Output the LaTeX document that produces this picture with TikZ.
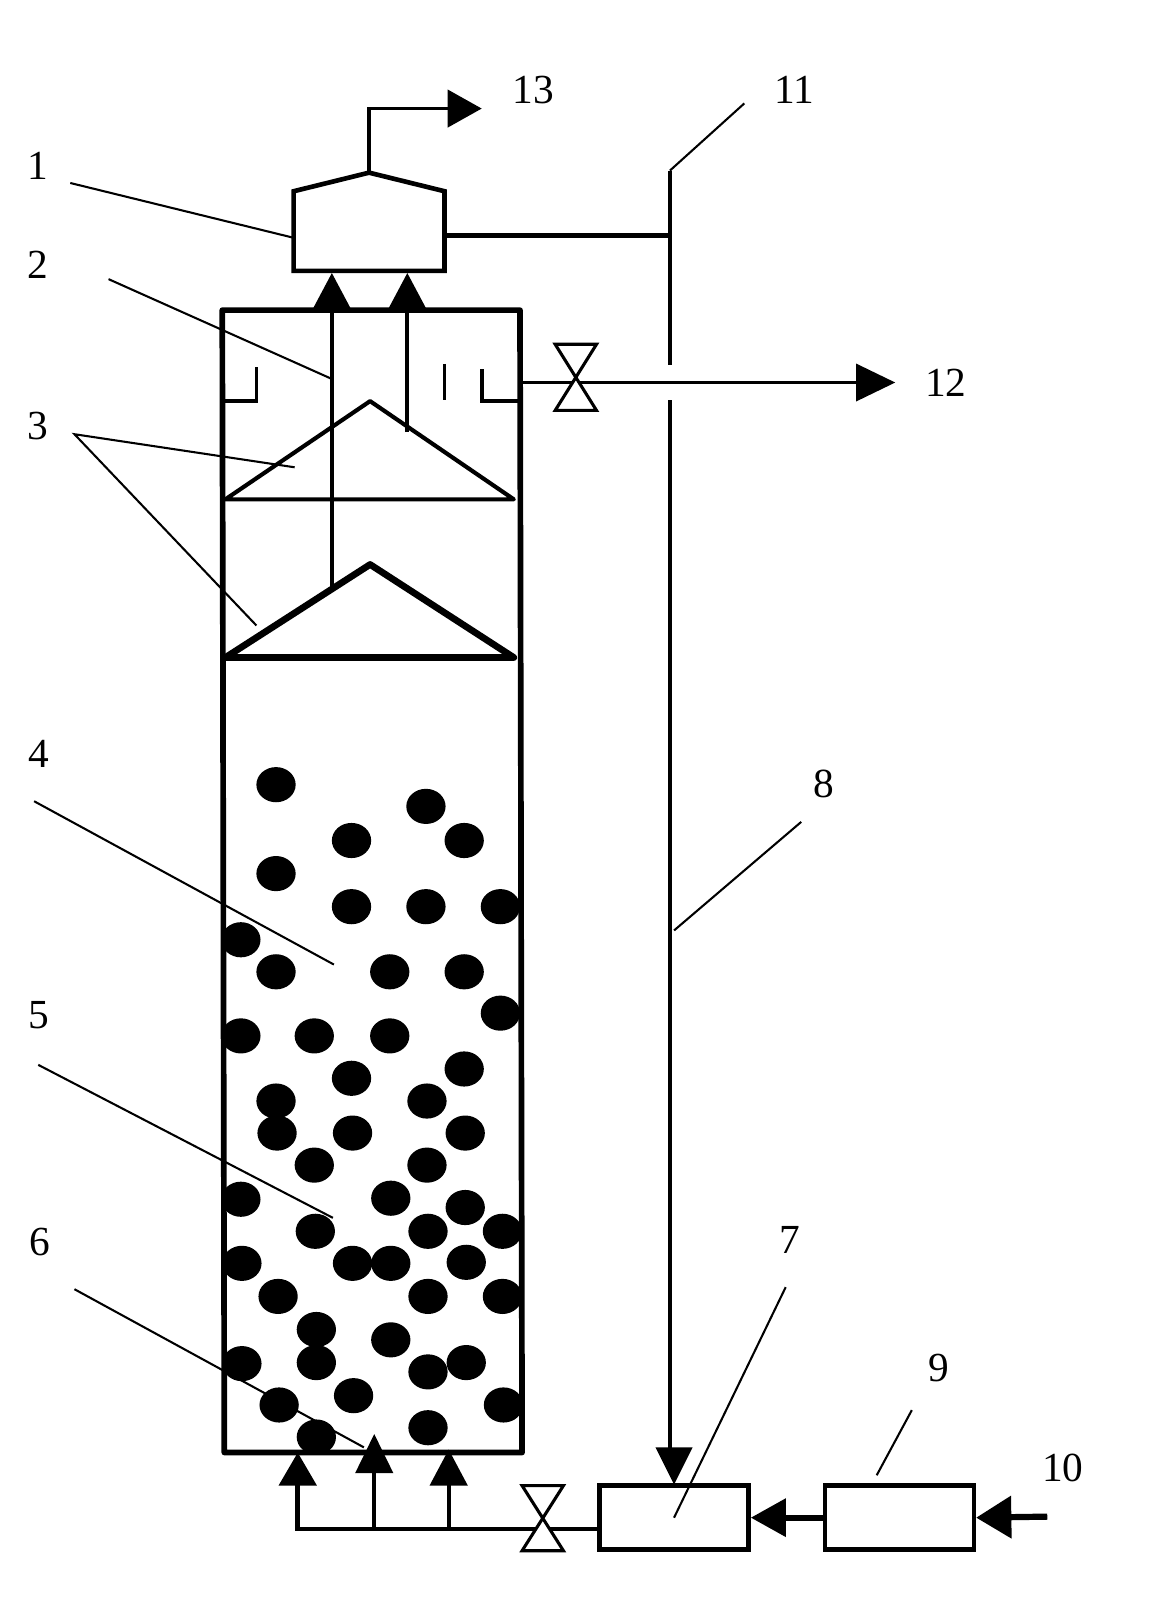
\documentclass[tikz,border=0pt]{standalone}
\usepackage{fontspec}
\setmainfont{Liberation Serif}
\usetikzlibrary{arrows.meta}
\tikzset{
  lab/.style={font=\fontsize{40}{40}\selectfont,inner sep=0pt},
  leader/.style={line width=2pt,black},
  wall/.style={line width=5.5pt,line cap=round,line join=round},
  pipe/.style={line width=4pt,line join=miter},
  tank/.style={draw,line width=4.5pt,fill=white,inner sep=0pt,minimum width=144pt,minimum height=62pt},
  bighead/.style={-{Triangle[length=#1,width=36pt]}},
  bead/.style={fill=black,draw=none},
  valve/.style={line width=3pt,fill=white,line join=miter}
}
\begin{document}
\begin{tikzpicture}[x=1pt,y=-1pt]
\useasboundingbox (0,0) rectangle (1118,1567);
% column
\coordinate (colTL) at (215,300);
\coordinate (colTR) at (503,300);
\coordinate (colBL) at (217,1405);
\coordinate (colBR) at (505,1405);
\foreach \x/\y in {267/759,412/780,340/813,449/813,267/845,340/877,412/877,484/877,233/909,267/940,377/940,449/940,484/980,233/1002,304/1002,377/1002,449/1034,340/1043,267/1065,413/1065,268/1096,341/1096,450/1096,304/1127,413/1127,233/1160,378/1159,450/1168,305/1191,414/1191,486/1191,234/1222,341/1222,378/1222,451/1221,269/1254,414/1254,486/1254,306/1286,378/1296,234/1319,306/1318,451/1318,414/1327,270/1359,342/1350,487/1359,414/1381,306/1390}
  \fill[bead] (\x,\y) ellipse [x radius=19,y radius=17];
\draw[wall] (colBL) -- (colTL) -- (colTR) -- (colBR) -- cycle;
% settlers
\coordinate (c1L) at (218,483); \coordinate (c1T) at (358,388); \coordinate (c1R) at (497,483);
\coordinate (c2L) at (218,636); \coordinate (c2T) at (358,546); \coordinate (c2R) at (497,636);
\draw[line width=4pt,line join=round] (c1L) -- (c1T) -- (c1R) -- cycle;
\draw[line width=6.5pt,line join=round] (c2L) -- (c2T) -- (c2R) -- cycle;
% weirs
\draw[line width=3.5pt] (215,388) -- (248,388) -- (248,355);
\draw[line width=3.5pt] (503,388) -- (466,388) -- (466,357);
\draw[line width=3pt] (430,352) -- (430,387);
% separator 1
\coordinate (sepTop) at (357,167);
\draw[line width=4.5pt,line join=miter] (284,262) -- (284,185) -- (sepTop) -- (430,185) -- (430,262) -- cycle;
\coordinate (sepR) at (430,228);
\coordinate (j11) at (648,228);
\coordinate (sepL) at (284,230);
% gas risers
\coordinate (r1in) at (321,572); \coordinate (r1out) at (321,264);
\coordinate (r2in) at (394,418); \coordinate (r2out) at (394,264);
\draw[pipe,bighead=35pt] (r1in) -- (r1out);
\draw[pipe,bighead=35pt] (r2in) -- (r2out);
% gas out
\coordinate (g13) at (466,105);
\draw[line width=3.5pt,bighead=33pt] (sepTop) |- (g13);
\draw[line width=5pt] (sepR) -- (j11);
% pipe 8
\coordinate (p11) at (648,165);
\coordinate (p8a) at (648,353);
\coordinate (p8b) at (648,387);
\coordinate (p8c) at (648,1402);
\coordinate (p8tip) at (652,1436);
\draw[line width=4pt] (p11) -- (p8a);
\draw[line width=4pt] (p8b) -- (p8c);
\fill (634,1400) -- (670,1400) -- (p8tip) -- cycle;
% effluent
\coordinate (eff) at (503,370);
\coordinate (t12) at (866,370);
\draw[line width=3pt,bighead=38pt] (eff) -- (t12);
\draw[valve] (537,333) -- (577,333) -- (537,397) -- (577,397) -- cycle;
% boxes
\node[tank] (b7) at (652,1468) {};
\node[tank] (b9) at (870,1468) {};
\coordinate (in10) at (1013,1467);
\draw[line width=6pt,bighead=34pt] (b9.west) -- (b7.east);
\draw[line width=6pt,-{Triangle[length=34pt,width=40pt]}] (in10) -- (b9.east);
% feed
\coordinate (f0) at (288,1479);
\coordinate (f1) at (362,1479);
\coordinate (f2) at (434,1479);
\draw[line width=4.5pt,line join=miter,bighead=32pt] (b7.west |- f0) -- (f0) -- (288,1405);
\draw[line width=4pt,bighead=38pt] (f1) -- (362,1387);
\draw[line width=4pt,bighead=35pt] (f2) -- (434,1402);
\draw[valve] (505,1437) -- (545,1437) -- (505,1500) -- (545,1500) -- cycle;
% labels
\node[lab] (l1) at (37,160) {1};
\node[lab] (l2) at (37,256) {2};
\node[lab] (l3) at (37,412) {3};
\node[lab] (l4) at (38,729) {4};
\node[lab] (l5) at (38,982) {5};
\node[lab] (l6) at (39,1201) {6};
\node[lab] (l7) at (764,1199) {7};
\node[lab] (l8) at (797,758) {8};
\node[lab] (l9) at (908,1323) {9};
\node[lab] (l10) at (1028,1420) {10};
\node[lab] (l11) at (768,87) {11};
\node[lab] (l12) at (915,370) {12};
\node[lab] (l13) at (516,87) {13};
% leaders
\draw[leader] (68,177) -- (sepL);
\draw[leader] (105,270) -- (322,367);
\draw[leader] (285,452) -- (72,420) -- (248,605);
\draw[leader] (33,775) -- (323,933);
\draw[leader] (37,1030) -- (322,1178);
\draw[leader] (72,1247) -- (352,1400);
\draw[leader] (760,1245) -- (652,1468);
\draw[leader] (775,795) -- (652,900);
\draw[leader] (882,1364) -- (848,1427);
\draw[leader] (720,100) -- (p11);
\end{tikzpicture}
\end{document}
